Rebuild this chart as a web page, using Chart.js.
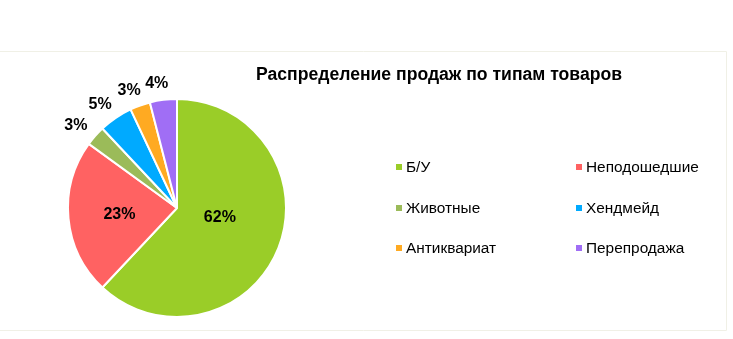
<!DOCTYPE html>
<html>
<head>
<meta charset="utf-8">
<script src="https://cdn.jsdelivr.net/npm/chart.js@4"></script>
<style>
  html, body { margin: 0; padding: 0; background: #fff; }
  #wrap { width: 733px; height: 339px; position: relative; }
</style>
</head>
<body>
<div id="wrap"><canvas id="myPieChart" width="733" height="339"></canvas></div>
<script>
// данные
const labels = ["Б/У", "Неподошедшие", "Животные", "Хендмейд", "Антиквариат", "Перепродажа"];
const values = [62, 23, 3, 5, 3, 4];
const colors = ["#9ACD28", "#FF6262", "#9BBB59", "#00AAFF", "#FFAA22", "#A06EF5"];
const chartTitle = "Распределение продаж по типам товаров";

const FONT = "'Liberation Sans', Arial, sans-serif";

// подписи процентов
const pctLabels = {
  id: 'pctLabels',
  afterDatasetsDraw(chart) {
    const ctx = chart.ctx;
    const meta = chart.getDatasetMeta(0);
    const total = values.reduce((a, b) => a + b, 0);
    ctx.save();
    ctx.font = "bold 16px " + FONT;
    ctx.fillStyle = "#000";
    ctx.textAlign = "center";
    ctx.textBaseline = "middle";
    meta.data.forEach(function (arc, i) {
      const p = arc.getProps(['x', 'y', 'startAngle', 'endAngle', 'outerRadius'], true);
      let mid = (p.startAngle + p.endAngle) / 2;
      const share = values[i] / total;
      const txt = Math.round(share * 100) + "%";
      let x, y;
      if (share > 0.5) {
        // большой сектор: подпись ближе к горизонтали
        mid -= 0.19;
        const r = p.outerRadius * 0.4;
        x = p.x + Math.cos(mid) * r;
        y = p.y + Math.sin(mid) * r + 1;
      } else if (share > 0.1) {
        const r = p.outerRadius * 0.53;
        x = p.x + Math.cos(mid) * r;
        y = p.y + Math.sin(mid) * r + 1;
      } else {
        // снаружи
        const r = p.outerRadius + 9;
        const w = ctx.measureText(txt).width;
        x = p.x + Math.cos(mid) * (r + w / 2) - 4;
        y = p.y + Math.sin(mid) * (r + 7);
      }
      ctx.fillText(txt, x, y);
    });
    ctx.restore();
  }
};

// рамка, заголовок и легенда
const decor = {
  id: 'decor',
  beforeDraw(chart) {
    const ctx = chart.ctx;
    ctx.save();
    ctx.strokeStyle = "#F0F0E6";
    ctx.lineWidth = 1;
    ctx.beginPath();
    ctx.moveTo(0, 51.5);
    ctx.lineTo(726.5, 51.5);
    ctx.lineTo(726.5, 330.5);
    ctx.lineTo(0, 330.5);
    ctx.stroke();
    ctx.restore();
  },
  afterDraw(chart) {
    const ctx = chart.ctx;
    ctx.save();
    ctx.fillStyle = "#000";
    ctx.font = "bold 17.6px " + FONT;
    ctx.textAlign = "left";
    ctx.textBaseline = "middle";
    ctx.fillText(chartTitle, 256, 75);

    ctx.font = "15.4px " + FONT;
    const colX = [396, 576];
    const rowY = [167, 208, 248];
    labels.forEach(function (lab, i) {
      const x = colX[i % 2];
      const y = rowY[Math.floor(i / 2)];
      ctx.fillStyle = colors[i];
      ctx.fillRect(x, y - 3, 6, 6);
      ctx.fillStyle = "#000";
      ctx.fillText(lab, x + 10, y + 1);
    });
    ctx.restore();
  }
};

let ctx = document.getElementById("myPieChart");
let myPieChart = new Chart(ctx, {
  type: 'pie',
  data: {
    labels: labels,
    datasets: [{
      data: values,
      backgroundColor: colors,
      borderColor: "#fff",
      borderWidth: 2
    }]
  },
  options: {
    responsive: false,
    animation: false,
    layout: {
      padding: { left: 67, top: 98, right: 446, bottom: 21 }
    },
    plugins: {
      legend: { display: false },
      tooltip: { enabled: false },
      title: { display: false }
    }
  },
  plugins: [pctLabels, decor]
});
</script>
</body>
</html>
